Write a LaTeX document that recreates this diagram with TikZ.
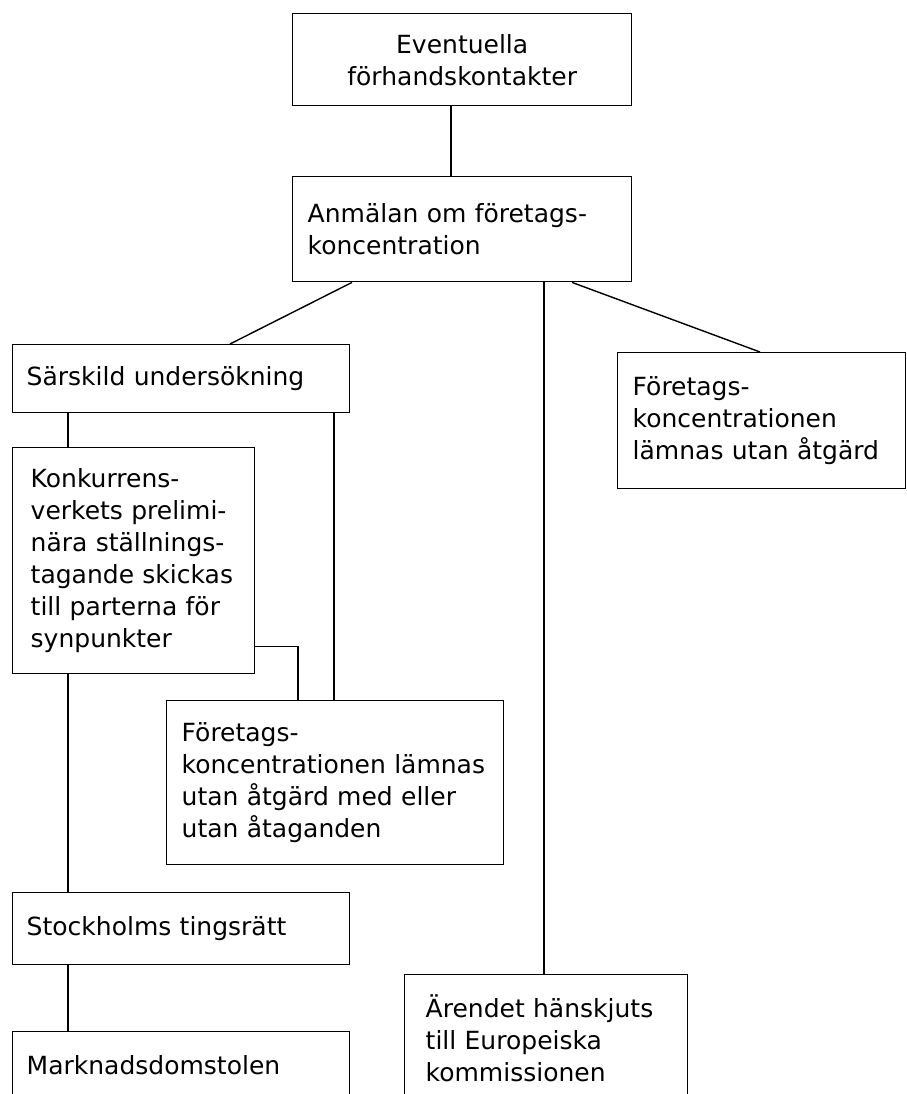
\documentclass[tikz,border=0pt]{standalone}
\usepackage{fontspec}
\setmainfont{DejaVu Sans}
\usepackage{tikz}
\usetikzlibrary{positioning}

\begin{document}
\begin{tikzpicture}[x=1pt, y=-1pt, line width=1.4pt,
    box/.style={rectangle, draw, anchor=north west, inner ysep=0pt, inner xsep=15pt,
        align=left, font=\fontsize{25}{32}\selectfont}]
    \useasboundingbox (0,0) rectangle (906,1094);
    \path
        node (forh) at (292,13)  [box, align=center, text width=309pt, minimum height=92pt]
            { Eventuella\\förhandskontakter }
        node (anm) at (292,176)  [box, text width=309pt, minimum height=105pt]
            { Anmälan om företags-\\koncentration }
        node (sars) at (12,344)  [box, inner xsep=14pt, text width=309pt, minimum height=68pt]
            { Särskild undersökning }
        node (frer) at (617,352) [box, text width=258pt, minimum height=136pt]
            { Företags-\\koncentrationen\\lämnas utan åtgärd }
        node (konk) at (12,447)  [box, inner xsep=18pt, text width=206pt, minimum height=226pt]
            { Konkurrens-\\verkets prelimi-\\nära ställnings-\\tagande skickas\\till parterna för\\synpunkter }
        node (fmid) at (166,700) [box, text width=307pt, minimum height=164pt]
            { Företags-\\koncentrationen lämnas\\utan åtgärd med eller\\utan åtaganden }
        node (sthlm) at (12,892) [box, inner xsep=14pt, text width=309pt, minimum height=72pt]
            { Stockholms tingsrätt }
        node (mdom) at (12,1031) [box, inner xsep=14pt, text width=309pt, minimum height=66pt]
            { Marknadsdomstolen }
        node (eu) at (404,974)   [box, inner xsep=21pt, text width=241pt, minimum height=128pt]
            { Ärendet hänskjuts\\till Europeiska\\kommissionen };
    \draw ([xshift=159pt]forh.south west) -- ([xshift=159pt]anm.north west);
    \draw ([xshift=60pt]anm.south west) -- ([xshift=218pt]sars.north west);
    \draw ([xshift=252pt]anm.south west) -- ([xshift=252pt]anm.south west |- eu.north);
    \draw ([xshift=280pt]anm.south west) -- ([xshift=143pt]frer.north west);
    \draw ([xshift=56pt]sars.south west) -- ([xshift=56pt]konk.north west);
    \draw ([xshift=322pt]sars.south west) -- ([xshift=322pt]sars.south west |- fmid.north);
    \draw ([yshift=28pt]konk.south east) -| ([xshift=132pt]fmid.north west);
    \draw ([xshift=56pt]konk.south west) -- ([xshift=56pt]sthlm.north west);
    \draw ([xshift=56pt]sthlm.south west) -- ([xshift=56pt]mdom.north west);
\end{tikzpicture}
\end{document}
